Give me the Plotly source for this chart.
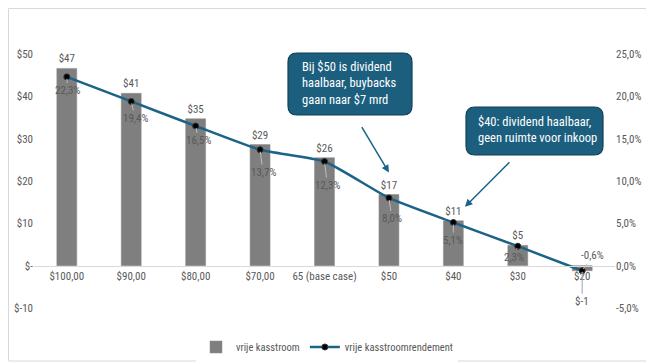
import plotly.graph_objects as go

# ---------------- data ----------------
categories = ["$100,00", "$90,00", "$80,00", "$70,00", "65 (base case)",
              "$50", "$40", "$30", "$20"]
free_cash_flow = [46.6, 40.7, 34.7, 28.6, 25.5, 16.8, 10.6, 4.8, -1.2]     # $ mrd
fcf_yield = [22.3, 19.4, 16.5, 13.7, 12.3, 8.0, 5.1, 2.3, -0.6]            # %

left_ticks = [-10, 0, 10, 20, 30, 40, 50]
left_ticktext = ["$-10", "$-", "$10", "$20", "$30", "$40", "$50"]
right_ticks = [-5, 0, 5, 10, 15, 20, 25]

# ---------------- style ----------------
OFF = 8                      # browser body margin
PAGE_W, PAGE_H = 654, 364
W, H = PAGE_W - OFF, PAGE_H - OFF
# plot area in page pixels
PX0, PX1, PY0, PY1 = 34, 615, 54, 308
ML, MR, MT, MB = PX0 - OFF, W + OFF - PX1, PY0 - OFF, H + OFF - PY1
PW, PH = PX1 - PX0, PY1 - PY0
FONT = "Liberation Sans Narrow, Arial Narrow, Roboto Condensed, sans-serif"
GRAY_TXT = "#595959"
BAR_COL = "#7F7F7F"
LINE_COL = "#1B6388"
BOX_FILL = "#1B5E7E"
BOX_LINE = "#123F55"
YL = [-10, 50]
YR = [-5, 25]

def px_to_paper(px, py):
    return (px - PX0) / PW, (PY1 - py) / PH

def rounded_rect(x0, y0, x1, y1, r):
    def P(x, y):
        a, b = px_to_paper(x, y)
        return f"{a:.5f},{b:.5f}"
    return (f"M {P(x0 + r, y0)} L {P(x1 - r, y0)} Q {P(x1, y0)} {P(x1, y0 + r)} "
            f"L {P(x1, y1 - r)} Q {P(x1, y1)} {P(x1 - r, y1)} "
            f"L {P(x0 + r, y1)} Q {P(x0, y1)} {P(x0, y1 - r)} "
            f"L {P(x0, y0 + r)} Q {P(x0, y0)} {P(x0 + r, y0)} Z")

bar_text = [f"${v:.0f}" if v > 0 else "" for v in free_cash_flow]
pct_text = [f"{p:.1f}%".replace(".", ",") for p in fcf_yield]
pct_offsets = [(1, 14), (4, 17), (3, 15), (3, 23), (3, 24), (3, 21), (0, 18), (-4, 11), (10, -15)]

fig = go.Figure()
fig.add_trace(go.Bar(
    x=categories, y=free_cash_flow, name="vrije kasstroom",
    marker=dict(color=BAR_COL, line=dict(color="#8C8C8C", width=0.5)),
    text=bar_text, textposition="outside", cliponaxis=False,
    textfont=dict(family=FONT, size=11, color=GRAY_TXT),
    yaxis="y",
))
fig.add_trace(go.Scatter(
    x=categories, y=fcf_yield, name="vrije kasstroomrendement",
    mode="lines+markers", yaxis="y2",
    line=dict(color=LINE_COL, width=2.5, shape="spline", smoothing=0.5),
    marker=dict(color="black", size=6, line=dict(color="#333333", width=1)),
    cliponaxis=False,
))

annotations = []
for i, p in enumerate(fcf_yield):
    dx, dy = pct_offsets[i]
    annotations.append(dict(
        x=i, y=p, xref="x", yref="y2", text=pct_text[i],
        showarrow=True, ax=dx, ay=dy, arrowhead=0, arrowwidth=1,
        arrowcolor="#BFBFBF", standoff=2,
        font=dict(family=FONT, size=11, color=GRAY_TXT),
    ))
for i, v in enumerate(free_cash_flow):
    if v <= 0:
        annotations.append(dict(
            x=i, y=v, xref="x", yref="y", text=f"${v:.0f}",
            showarrow=True, ax=0, ay=31, arrowhead=0, arrowwidth=1,
            arrowcolor="#A6A6A6", standoff=1,
            font=dict(family=FONT, size=11, color=GRAY_TXT),
        ))

box_font = dict(family=FONT, size=12.5, color="white")
bx, by = px_to_paper(300, 83)
annotations.append(dict(x=bx, y=by, xref="paper", yref="paper", xanchor="left",
                        yanchor="middle", align="left", showarrow=False,
                        text="Bij $50 is dividend<br>haalbaar, buybacks<br>gaan naar $7 mrd",
                        font=box_font))
bx, by = px_to_paper(476, 129)
annotations.append(dict(x=bx, y=by, xref="paper", yref="paper", xanchor="left",
                        yanchor="middle", align="left", showarrow=False,
                        text="$40: dividend haalbaar,<br>geen ruimte voor inkoop",
                        font=box_font))
annotations.append(dict(x=5.0, y=22.0, xref="x", yref="y", text="", showarrow=True,
                        ax=-28, ay=-47, arrowhead=2, arrowsize=1, arrowwidth=1.5,
                        arrowcolor=LINE_COL))
annotations.append(dict(x=6.18, y=13.9, xref="x", yref="y", text="", showarrow=True,
                        ax=46, ay=-46, arrowhead=2, arrowsize=1, arrowwidth=1.5,
                        arrowcolor=LINE_COL))

shapes = [
    dict(type="path", xref="paper", yref="paper", path=rounded_rect(288, 53, 412, 115, 9),
         fillcolor=BOX_FILL, line=dict(color=BOX_LINE, width=1.2), layer="above"),
    dict(type="path", xref="paper", yref="paper", path=rounded_rect(466, 107, 603, 155, 9),
         fillcolor=BOX_FILL, line=dict(color=BOX_LINE, width=1.2), layer="above"),
]
bx0, by0 = px_to_paper(OFF + 0.5, OFF + 0.5)
bx1, by1 = px_to_paper(651, 361)
shapes.append(dict(type="rect", xref="paper", yref="paper", x0=bx0, y0=by1, x1=bx1, y1=by0,
                   line=dict(color="#D9D9D9", width=1), layer="below"))

zero_pos = (0 - YL[0]) / (YL[1] - YL[0])
lx, ly = px_to_paper(327, 347)

fig.update_layout(
    width=W, height=H,
    margin=dict(l=ML, r=MR, t=MT, b=MB, autoexpand=False),
    paper_bgcolor="white", plot_bgcolor="white",
    font=dict(family=FONT, size=11, color=GRAY_TXT),
    separators=",.",
    bargap=0.69,
    showlegend=True,
    legend=dict(orientation="h", x=lx, y=ly, xanchor="center", yanchor="middle",
                font=dict(family=FONT, size=10.5, color=GRAY_TXT), itemwidth=30),
    xaxis=dict(type="category", anchor="free", position=zero_pos, showline=True,
               linecolor="#D9D9D9", linewidth=1, ticks="", showgrid=False,
               tickfont=dict(family=FONT, size=11, color=GRAY_TXT)),
    yaxis=dict(range=YL, tickvals=left_ticks, ticktext=left_ticktext, showgrid=False,
               zeroline=False, showline=False, ticks="",
               tickfont=dict(family=FONT, size=11, color=GRAY_TXT)),
    yaxis2=dict(range=YR, overlaying="y", side="right", tickvals=right_ticks,
                ticktext=[f"{t:.1f}%".replace(".", ",") for t in right_ticks],
                showgrid=False, zeroline=False, showline=False, ticks="",
                tickfont=dict(family=FONT, size=11, color=GRAY_TXT)),
    annotations=annotations,
    shapes=shapes,
)

fig.write_html("out.html")
